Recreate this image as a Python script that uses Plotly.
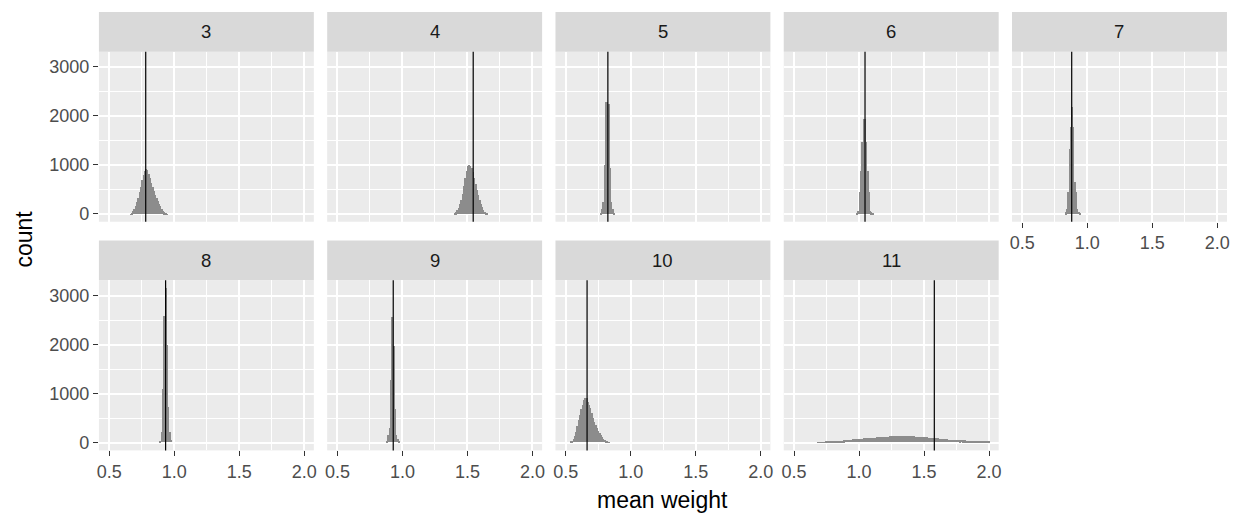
import plotly.graph_objects as go

# ---------------- data ----------------
BIN_WIDTH = 0.01
facets = ["3", "4", "5", "6", "7", "8", "9", "10", "11"]
mean_lines = [0.781, 1.544, 0.824, 1.046, 0.880, 0.934, 0.929, 0.664, 1.579]

start_3 = 0.665
counts_3 = [5, 20, 60, 110, 170, 240, 330, 450, 560, 690, 800, 880, 930, 900, 820,
            740, 640, 550, 470, 400, 340, 280, 210, 160, 110, 75, 40, 15, 5]

start_4 = 1.405
counts_4 = [10, 40, 80, 130, 200, 300, 420, 580, 740, 880, 980, 1000, 990, 940, 860,
            740, 620, 500, 390, 290, 210, 140, 90, 55, 25, 8]

start_5 = 0.775
counts_5 = [20, 100, 250, 1000, 2280, 2280, 2250, 950, 250, 100, 20]

start_6 = 0.985
counts_6 = [20, 60, 454, 892, 1480, 1940, 1940, 1480, 892, 454, 60, 40, 15]

start_7 = 0.835
counts_7 = [40, 100, 450, 1330, 1770, 2180, 1770, 650, 450, 100, 50, 20]

start_8 = 0.895
counts_8 = [30, 200, 1080, 2580, 3140, 1990, 720, 200, 50]

start_9 = 0.885
counts_9 = [30, 140, 300, 1270, 2550, 1970, 675, 140, 60, 20]

start_10 = 0.545
counts_10 = [10, 30, 60, 130, 210, 330, 460, 560, 680, 770, 860, 900, 900, 830, 760,
             690, 590, 500, 420, 350, 290, 230, 180, 140, 100, 70, 45, 25, 12, 5]

start_11 = 0.685
counts_11 = [2, 3, 3, 4, 5, 5, 6, 7, 8, 10, 12, 15,
             18, 20, 22, 25, 27, 30, 32, 35, 38, 42,
             44, 47, 50, 52, 56, 58, 60, 63, 65, 68,
             70, 74, 72, 78, 80, 83, 79, 86, 88, 91,
             93, 96, 92, 100, 103, 99, 106, 108, 104, 111,
             113, 110, 116, 118, 114, 120, 122, 117, 121, 124,
             120, 125, 123, 119, 126, 122, 124, 127, 121, 123,
             120, 118, 122, 115, 117, 112, 114, 109, 111, 106,
             104, 100, 102, 96, 93, 95, 89, 86, 84, 80,
             77, 74, 72, 68, 66, 63, 60, 58, 55, 53,
             51, 48, 49, 46, 44, 45, 42, 40, 41, 38,
             36, 37, 34, 33, 31, 32, 29, 28, 27, 26,
             25, 24, 23, 22, 22, 21, 20, 19, 19, 18]

starts = [start_3, start_4, start_5, start_6, start_7, start_8, start_9, start_10, start_11]
counts = [counts_3, counts_4, counts_5, counts_6, counts_7, counts_8, counts_9, counts_10, counts_11]

x_ticks = [0.5, 1.0, 1.5, 2.0]
x_tick_text = ["0.5", "1.0", "1.5", "2.0"]
y_ticks = [0, 1000, 2000, 3000]
y_tick_text = ["0", "1000", "2000", "3000"]

# ---------------- layout ----------------
W, H = 1245, 519
FONT = "Liberation Sans, Arial, sans-serif"
TICK_SIZE = 18
STRIP_SIZE = 18.5
TITLE_SIZE = 23
col_left = [97.3 + i * 229.2 for i in range(5)]
panel_w = 215.8
row_top = [52, 282]
panel_h = 171
strip_h = 40
x_range = [0.421, 2.074]
y_range = [-158, 3309]

fig = go.Figure()
shapes = []
annotations = []
layout_axes = {}

for k, facet in enumerate(facets):
    r, c = divmod(k, 5)
    n = "" if k == 0 else str(k + 1)
    left = col_left[c]
    top = row_top[r]
    xs = [starts[k] + i * BIN_WIDTH for i in range(len(counts[k]))]
    fig.add_trace(go.Bar(
        x=xs, y=counts[k], width=BIN_WIDTH,
        marker=dict(color="#8C8C8C", line=dict(width=0)),
        xaxis="x" + n, yaxis="y" + n, showlegend=False, hoverinfo="x+y",
    ))
    show_x = (r == 1) or (k == 4)
    show_y = (c == 0)
    layout_axes["xaxis" + n] = dict(
        domain=[left / W, (left + panel_w) / W], anchor="y" + n,
        range=x_range, tickvals=x_ticks, ticktext=x_tick_text,
        showticklabels=show_x, ticks="outside" if show_x else "",
        ticklen=5, tickwidth=1.3, tickcolor="#333333",
        tickfont=dict(family=FONT, size=TICK_SIZE, color="#4D4D4D"),
        showgrid=True, gridcolor="white", gridwidth=2,
        minor=dict(tickvals=[0.75, 1.25, 1.75], showgrid=True, gridcolor="white", gridwidth=1),
        zeroline=False, showline=False, fixedrange=True,
    )
    layout_axes["yaxis" + n] = dict(
        domain=[1 - (top + panel_h) / H, 1 - top / H], anchor="x" + n,
        range=y_range, tickvals=y_ticks, ticktext=y_tick_text,
        showticklabels=show_y, ticks="outside" if show_y else "",
        ticklen=5, tickwidth=1.3, tickcolor="#333333",
        tickfont=dict(family=FONT, size=TICK_SIZE, color="#4D4D4D"),
        showgrid=True, gridcolor="white", gridwidth=2,
        minor=dict(tickvals=[500, 1500, 2500], showgrid=True, gridcolor="white", gridwidth=1),
        zeroline=False, showline=False, fixedrange=True,
    )
    # strip
    shapes.append(dict(
        type="rect", xref="paper", yref="paper",
        x0=left / W, x1=(left + panel_w) / W,
        y0=1 - top / H, y1=1 - (top - strip_h) / H,
        fillcolor="#D9D9D9", line=dict(width=0), layer="below",
    ))
    annotations.append(dict(
        text=facet, xref="paper", yref="paper",
        x=(left + panel_w / 2) / W, y=1 - (top - strip_h / 2) / H,
        showarrow=False, xanchor="center", yanchor="middle",
        font=dict(family=FONT, size=STRIP_SIZE, color="#1A1A1A"),
    ))
    # mean line
    shapes.append(dict(
        type="line", xref="x" + n, yref="y" + n + " domain",
        x0=mean_lines[k], x1=mean_lines[k], y0=0, y1=1,
        line=dict(color="black", width=1.2), layer="above",
    ))

annotations.append(dict(
    text="mean weight", xref="paper", yref="paper",
    x=(col_left[0] + col_left[4] + panel_w) / 2 / W, y=1 - 503 / H,
    showarrow=False, xanchor="center", yanchor="middle",
    font=dict(family=FONT, size=TITLE_SIZE, color="black"),
))
annotations.append(dict(
    text="count", xref="paper", yref="paper",
    x=22 / W, y=1 - 240 / H, textangle=-90,
    showarrow=False, xanchor="center", yanchor="middle",
    font=dict(family=FONT, size=TITLE_SIZE, color="black"),
))

fig.update_layout(
    width=W, height=H,
    margin=dict(l=0, r=0, t=0, b=0),
    paper_bgcolor="white", plot_bgcolor="#EBEBEB",
    bargap=0, showlegend=False,
    shapes=shapes, annotations=annotations,
    **layout_axes,
)

fig.write_html("out.html")
